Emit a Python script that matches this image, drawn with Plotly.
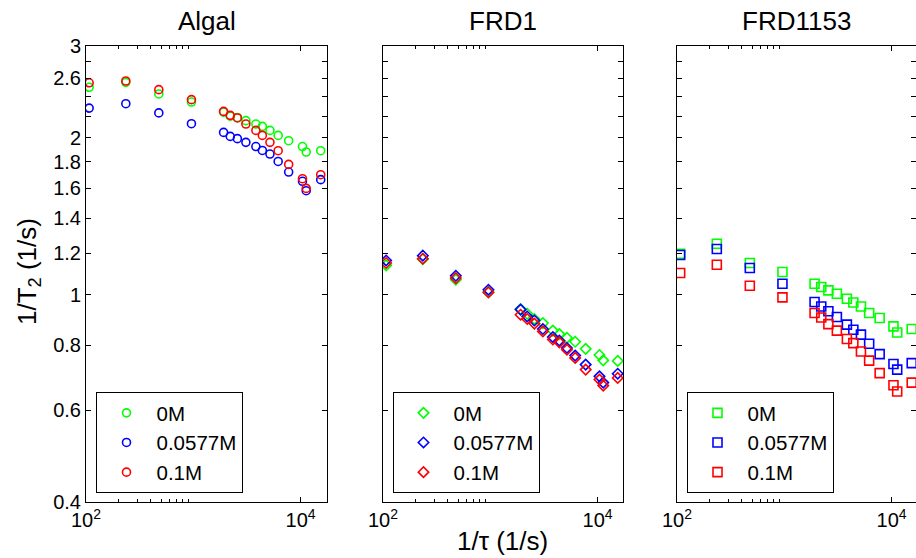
import plotly.graph_objects as go

# Relaxation rate 1/T2 versus CPMG pulsing rate 1/tau for three samples,
# each measured at three salt concentrations.
rate = [107, 235, 477, 961, 1915, 2210, 2575, 3090, 3830, 4400, 5180, 6180,
        7740, 10410, 11280, 15400]

concentrations = ["0M", "0.0577M", "0.1M"]
colors = ["#00ff00", "#0000ff", "#ff0000"]

algal_0M = [2.50, 2.555, 2.427, 2.342, 2.24, 2.20, 2.188, 2.157, 2.125, 2.103,
            2.066, 2.021, 1.974, 1.924, 1.878, 1.889]
algal_0577M = [2.28, 2.325, 2.232, 2.128, 2.048, 2.012, 1.992, 1.960, 1.924,
               1.891, 1.861, 1.801, 1.719, 1.650, 1.583, 1.662]
algal_01M = [2.55, 2.57, 2.474, 2.367, 2.247, 2.208, 2.183, 2.125, 2.066,
             2.021, 1.960, 1.889, 1.778, 1.669, 1.599, 1.699]

frd1_0M = [1.138, 1.17, 1.068, 1.012, 0.938, 0.919, 0.898, 0.882, 0.853,
           0.840, 0.826, 0.812, 0.787, 0.766, 0.748, 0.746]
frd1_0577M = [1.163, 1.188, 1.087, 1.022, 0.936, 0.908, 0.892, 0.859, 0.829,
              0.816, 0.790, 0.764, 0.734, 0.697, 0.678, 0.705]
frd1_01M = [1.150, 1.172, 1.076, 1.010, 0.915, 0.898, 0.880, 0.850, 0.820,
            0.810, 0.784, 0.756, 0.718, 0.687, 0.669, 0.692]

frd1153_0M = [1.198, 1.252, 1.150, 1.105, 1.049, 1.034, 1.019, 1.004, 0.982,
              0.966, 0.949, 0.922, 0.902, 0.869, 0.846, 0.859]
frd1153_0577M = [1.191, 1.223, 1.125, 1.049, 0.968, 0.949, 0.929, 0.906,
                 0.876, 0.856, 0.838, 0.805, 0.769, 0.736, 0.718, 0.739]
frd1153_01M = [1.100, 1.141, 1.040, 0.988, 0.922, 0.904, 0.878, 0.853, 0.822,
               0.807, 0.778, 0.747, 0.707, 0.670, 0.652, 0.678]

samples = ["Algal", "FRD1", "FRD1153"]
sample_series = [
    [algal_0M, algal_0577M, algal_01M],
    [frd1_0M, frd1_0577M, frd1_01M],
    [frd1153_0M, frd1153_0577M, frd1153_01M],
]
symbols = ["circle-open", "diamond-open", "square-open"]
sizes = [8, 8, 9]

y_ticks = [0.4, 0.6, 0.8, 1, 1.2, 1.4, 1.6, 1.8, 2, 2.2, 2.4, 2.6, 2.8, 3]
y_ticktext = ["0.4", "0.6", "0.8", "1", "1.2", "1.4", "1.6", "1.8", "2",
              "", "", "2.6", "", "3"]
x_ticks = [100, 10000]
x_ticktext = ["10<sup>2</sup>", "10<sup>4</sup>"]
x_minor = [200, 300, 400, 500, 600, 700, 800, 900]

FONT = "Liberation Sans, Arial, Helvetica, sans-serif"
W, H = 916, 558
ML, MR, MT, MB = 86, 0, 46, 56
PW = W - ML - MR
PH = H - MT - MB

# panel pixel extents (left, right)
panels_px = [(86, 327), (383, 623), (677, 916)]
decade_px = 107.3

fig = go.Figure()

for i, (name, series) in enumerate(zip(samples, sample_series)):
    xa = "x" if i == 0 else f"x{i + 1}"
    ya = "y" if i == 0 else f"y{i + 1}"
    leg = "legend" if i == 0 else f"legend{i + 1}"
    for conc, col, vals in zip(concentrations, colors, series):
        fig.add_trace(go.Scatter(
            x=rate, y=vals, mode="markers", name=conc,
            xaxis=xa, yaxis=ya, legend=leg,
            marker=dict(symbol=symbols[i], size=sizes[i], color=col,
                        line=dict(width=1.6, color=col)),
        ))

axis_common = dict(
    type="log", showgrid=False, zeroline=False, showline=True,
    linecolor="black", linewidth=1, mirror="ticks", ticks="inside",
    tickcolor="black", tickwidth=1, ticklen=5,
    tickfont=dict(family=FONT, size=20, color="black"),
    automargin=False,
)

layout = dict(
    width=W, height=H, margin=dict(l=ML, r=MR, t=MT, b=MB, pad=0,
                                   autoexpand=False),
    paper_bgcolor="white", plot_bgcolor="white",
    font=dict(family=FONT, color="black"),
    showlegend=True,
)

for i, (l, r) in enumerate(panels_px):
    d0 = (l - ML) / PW
    d1 = min((r - ML) / PW, 1.0)
    xr = [2, 2 + (r - l) / decade_px]
    key = "" if i == 0 else str(i + 1)
    layout[f"xaxis{key}"] = dict(
        axis_common, domain=[d0, d1], range=xr, anchor=f"y{key}",
        tickmode="array", tickvals=x_ticks, ticktext=x_ticktext,
        minor=dict(tickmode="array", tickvals=x_minor, ticks="inside",
                   ticklen=3, tickcolor="black", tickwidth=1),
    )
    layout[f"yaxis{key}"] = dict(
        axis_common, domain=[0, 1], range=[-0.39794, 0.47712],
        anchor=f"x{key}", tickmode="array", tickvals=y_ticks,
        ticktext=y_ticktext, showticklabels=(i == 0),
    )
    # one framed legend in the lower-left corner of each panel
    legkey = "legend" if i == 0 else f"legend{i + 1}"
    layout[legkey] = dict(
        xref="paper", yref="paper",
        x=(l + 9.5 - ML) / PW, y=(H - MB - 493) / PH,
        xanchor="left", yanchor="bottom",
        bgcolor="white", bordercolor="black", borderwidth=1,
        font=dict(family=FONT, size=20.5, color="black"),
        itemwidth=50, tracegroupgap=0, entrywidth=155,
    )

fig.update_layout(**layout)

annotations = []
for i, (l, r) in enumerate(panels_px):
    annotations.append(dict(
        text=samples[i], xref="paper", yref="paper",
        x=((l + r) / 2 - ML) / PW, y=1, xanchor="center", yanchor="bottom",
        yshift=8, showarrow=False,
        font=dict(family=FONT, size=26, color="black"),
    ))
annotations.append(dict(
    text="1/\u03c4 (1/s)", xref="paper", yref="paper",
    x=((383 + 623) / 2 - ML) / PW, y=0, xanchor="center", yanchor="top",
    yshift=-22, showarrow=False,
    font=dict(family=FONT, size=26, color="black"),
))
annotations.append(dict(
    text="1/T<sub>2</sub> (1/s)", xref="paper", yref="paper",
    x=(28 - ML) / PW, y=(H - MB - 271) / PH, xanchor="center",
    yanchor="middle", textangle=-90, showarrow=False,
    font=dict(family=FONT, size=26, color="black"),
))
fig.update_layout(annotations=annotations)

fig.write_html("out.html")
